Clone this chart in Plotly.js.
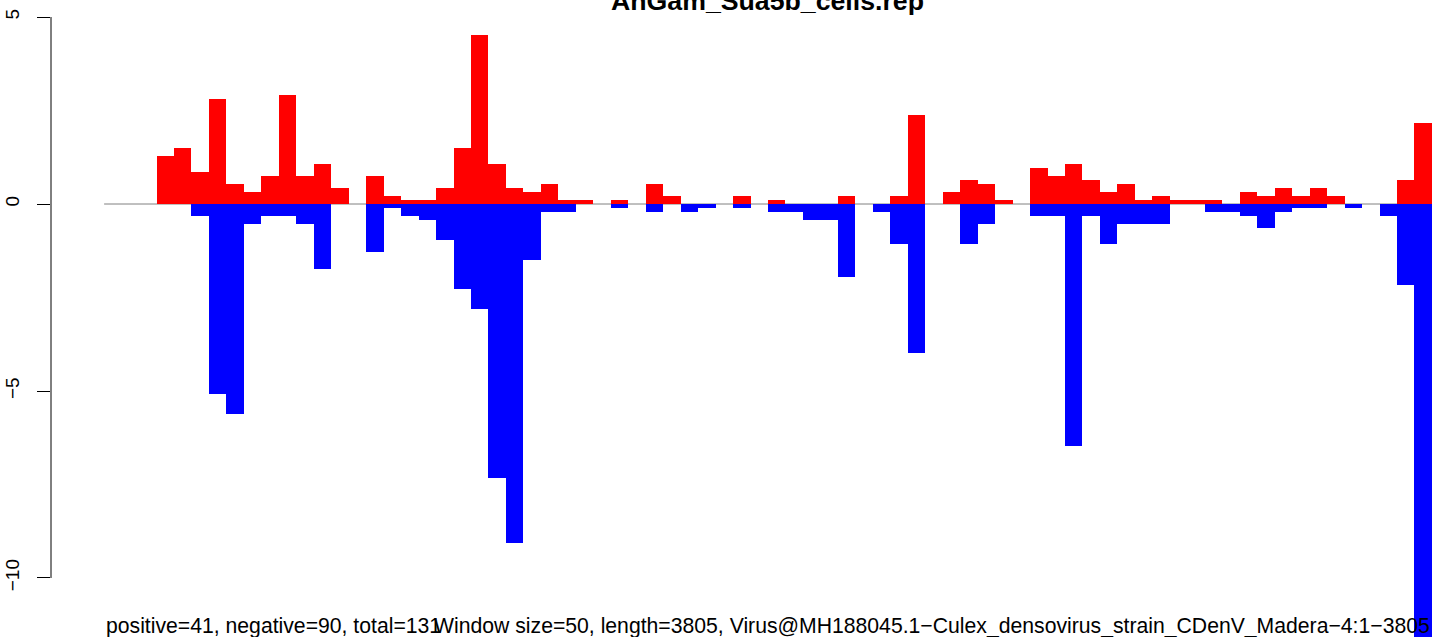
<!DOCTYPE html>
<html>
<head>
<meta charset="utf-8">
<script src="https://cdn.plot.ly/plotly-3.0.1.min.js"></script>
<style>
  html, body { margin: 0; padding: 0; background: #ffffff; }
  #chart { width: 1444px; height: 637px; }
</style>
</head>
<body>
<div id="chart"></div>
<script>
const WINDOW_SIZE = 50;
const SEQ_LENGTH = 3805;
const CHART_TITLE = "AnGam_Sua5b_cells.rep";
const NOTE_LEFT = "positive=41, negative=90, total=131";
const NOTE_RIGHT = "Window size=50, length=3805, Virus@MH188045.1\u2212Culex_densovirus_strain_CDenV_Madera\u22124:1\u22123805";

const positive = [
  0, 0, 0, 1.29, 1.51, 0.86, 2.80, 0.54, 0.32, 0.75,
  2.91, 0.75, 1.08, 0.43, 0, 0.75, 0.22, 0.11, 0.11, 0.43,
  1.51, 4.53, 1.08, 0.43, 0.32, 0.54, 0.11, 0.11, 0, 0.11,
  0, 0.54, 0.22, 0, 0, 0, 0.22, 0, 0.11, 0,
  0, 0, 0.22, 0, 0, 0.22, 2.37, 0, 0.32, 0.65,
  0.54, 0.11, 0, 0.97, 0.75, 1.08, 0.65, 0.32, 0.54, 0.11,
  0.22, 0.11, 0.11, 0.11, 0, 0.32, 0.22, 0.43, 0.22, 0.43,
  0.22, 0, 0, 0, 0.65, 2.16
];

const negative = [
  0, 0, 0, 0, 0, -0.32, -5.07, -5.61, -0.54, -0.32,
  -0.32, -0.54, -1.75, 0, 0, -1.29, -0.11, -0.32, -0.43, -0.97,
  -2.26, -2.80, -7.33, -9.06, -1.51, -0.22, -0.22, 0, 0, -0.11,
  0, -0.22, 0, -0.22, -0.11, 0, -0.11, 0, -0.22, -0.22,
  -0.43, -0.43, -1.94, 0, -0.22, -1.08, -3.99, 0, 0, -1.08,
  -0.54, 0, 0, -0.32, -0.32, -6.47, -0.32, -1.08, -0.54, -0.54,
  -0.54, 0, 0, -0.22, -0.22, -0.32, -0.65, -0.22, -0.11, -0.11,
  0, -0.11, 0, -0.32, -2.16, -11.9
];

const yTickVals = [5, 0, -5, -10];

const windowCenters = positive.map((_, i) => i * WINDOW_SIZE + WINDOW_SIZE / 2);
const coveredEnd = positive.length * WINDOW_SIZE;

const FONT = "Liberation Sans, Arial, Helvetica, sans-serif";

const traces = [
  {
    type: "bar", x: windowCenters, y: positive, width: WINDOW_SIZE,
    marker: { color: "#FF0000", line: { width: 0 } },
    hoverinfo: "skip", showlegend: false
  },
  {
    type: "bar", x: windowCenters, y: negative, width: WINDOW_SIZE,
    marker: { color: "#0000FF", line: { width: 0 } },
    hoverinfo: "skip", showlegend: false
  }
];

const layout = {
  width: 1444, height: 637,
  margin: { l: 51, r: 0, t: 0, b: 0, pad: 0 },
  paper_bgcolor: "#ffffff", plot_bgcolor: "#ffffff",
  barmode: "overlay", bargap: 0,
  showlegend: false,
  font: { family: FONT, color: "#000000", size: 19 },
  xaxis: {
    range: [-152, 3834.6], visible: false, showgrid: false, zeroline: false, fixedrange: true
  },
  yaxis: {
    range: [-11.578, 5.455], showgrid: false, zeroline: false, showline: false,
    tickmode: "array", tickvals: yTickVals,
    ticks: "outside", ticklen: 13, tickwidth: 1, tickcolor: "#000000",
    tickangle: -90, ticklabelstandoff: 10,
    tickfont: { family: FONT, size: 19, color: "#000000" },
    automargin: false, fixedrange: true
  },
  shapes: [
    { type: "line", xref: "x", yref: "y", x0: 0, x1: coveredEnd, y0: 0, y1: 0,
      line: { color: "#808080", width: 1 }, layer: "below" },
    { type: "line", xref: "paper", yref: "y", x0: 0, x1: 0, y0: yTickVals[3], y1: yTickVals[0],
      line: { color: "#000000", width: 1 } }
  ],
  annotations: [
    { text: "<b>" + CHART_TITLE + "</b>", xref: "paper", yref: "paper",
      x: 0.5147, y: 0.9985, xanchor: "center", yanchor: "middle", showarrow: false,
      font: { family: FONT, size: 26.7, color: "#000000" } },
    { text: NOTE_LEFT, xref: "x", yref: "paper", x: 0, y: 0.0176,
      xanchor: "left", yanchor: "middle", showarrow: false,
      font: { family: FONT, size: 21.2, color: "#000000" } },
    { text: NOTE_RIGHT, xref: "x", yref: "paper", x: coveredEnd, y: 0.0176,
      xanchor: "right", yanchor: "middle", showarrow: false,
      font: { family: FONT, size: 21.2, color: "#000000" } }
  ]
};

Plotly.newPlot("chart", traces, layout, { staticPlot: true, displayModeBar: false });
</script>
</body>
</html>
